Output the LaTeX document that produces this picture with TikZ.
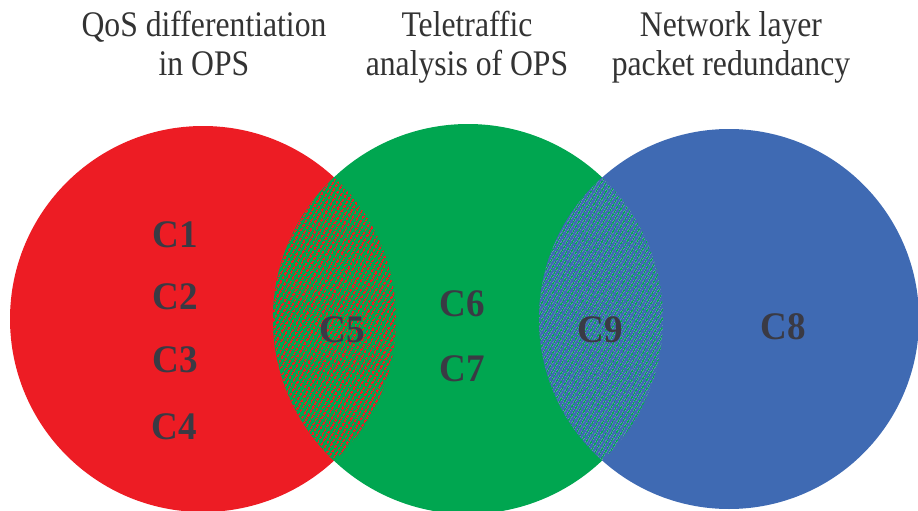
\documentclass[tikz,border=0pt]{standalone}
\usepackage{fontspec}
\setmainfont{Liberation Serif}
\newfontfamily\titlefont[FakeStretch=0.88]{Liberation Serif}
\newfontfamily\labfont[FakeStretch=0.95]{Liberation Serif}
\usetikzlibrary{patterns.meta}
\definecolor{vred}{HTML}{ED1C24}
\definecolor{vgreen}{HTML}{00A650}
\definecolor{vblue}{HTML}{3F6AB3}
\definecolor{labc}{HTML}{3A3A44}
\tikzset{
  title/.style={align=center, font=\titlefont\fontsize{36}{39}\selectfont, text=black!80, inner sep=0pt, anchor=base},
  clabel/.style={font=\labfont\bfseries\fontsize{39}{42}\selectfont, text=labc, inner sep=0pt, anchor=base},
  hatch/.style={pattern={Lines[angle=60, distance=4pt, line width=1.7pt]}}
}
\begin{document}
\begin{tikzpicture}[x=1pt, y=-1pt]
\useasboundingbox (0,0) rectangle (918,511);
% circles
\coordinate (cr) at (203,319);
\coordinate (cg) at (468,319);
\coordinate (cb) at (729,319);
\fill[vred] (cr) circle[radius=193];
\fill[vgreen] (cg) circle[radius=195];
\fill[vblue] (cb) circle[radius=190];
% overlaps
\begin{scope}
  \clip (cr) circle[radius=193];
  \fill[vgreen] (cg) circle[radius=195];
  \fill[hatch, pattern color=vred] (cg) circle[radius=195];
\end{scope}
\begin{scope}
  \clip (cg) circle[radius=195];
  \fill[vblue] (cb) circle[radius=190];
  \fill[hatch, pattern color=vgreen] (cb) circle[radius=190];
\end{scope}
% titles
\node[title] (t1a) at (204,37) {QoS differentiation};
\node[title] (t1b) at (204,75) {in OPS};
\node[title] (t2a) at (467,37) {Teletraffic};
\node[title] (t2b) at (467,75) {analysis of OPS};
\node[title] (t3a) at (731,37) {Network layer};
\node[title] (t3b) at (731,75) {packet redundancy};
% labels
\node[clabel] (c1) at (175,247) {C1};
\node[clabel] (c2) at (175,309) {C2};
\node[clabel] (c3) at (175,372) {C3};
\node[clabel] (c4) at (174,439) {C4};
\node[clabel] (c5) at (342,342) {C5};
\node[clabel] (c6) at (462,316) {C6};
\node[clabel] (c7) at (462,381) {C7};
\node[clabel] (c9) at (600,342) {C9};
\node[clabel] (c8) at (783,339) {C8};
\end{tikzpicture}
\end{document}
